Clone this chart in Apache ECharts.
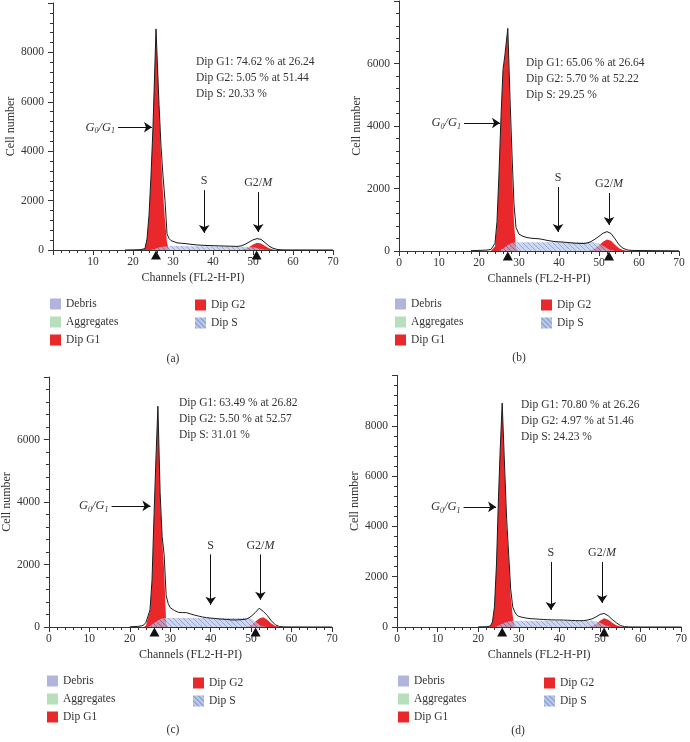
<!DOCTYPE html>
<html>
<head>
<meta charset="utf-8">
<script src="https://cdn.jsdelivr.net/npm/echarts@6/dist/echarts.min.js"></script>
<style>html,body{margin:0;padding:0;background:#fff}#c{width:690px;height:742px}</style>
</head>
<body>
<div id="c"></div>
<script>
// ---------- DATA ----------
const tailCh = [30,31,32,33,34,35,36,37,38,39,40,41,42,43,44,45,46,47,48,49,50,51,52,53,54,55,56,57,58,60,65,70];

// Panel (a)
const chA = [18,20,22,23,23.5,24,24.5,25,25.75,26.5,27,27.5,28,28.5,29,29.5].concat(tailCh);
const totalA = [0,5,15,60,450,1400,3000,5000,8950,5900,4200,3000,2000,650,470,380,
  320,290,275,260,240,220,205,195,185,180,175,170,165,160,155,150,145,165,230,320,410,460,430,300,160,70,25,8,4, 2,1,0];
const g1A = [0,0,5,50,430,1380,2980,4980,8950,5800,3800,2300,1200,300,0,0,
  0,0,0,0,0,0,0,0,0,0,0,0,0,0,0,0,0,0,0,0,0,0,0,0,0,0,0,0,0, 0,0,0];
const sA = [0,0,0,0,0,0,0,20,60,100,120,135,145,155,160,160,
  160,160,160,158,156,154,152,150,150,148,146,144,142,140,138,136,134,132,130,125,110,80,40,10,0,0,0,0,0, 0,0,0];
const g2A = [0,0,0,0,0,0,0,0,0,0,0,0,0,0,0,0,
  0,0,0,0,0,0,0,0,0,0,0,0,0,0,0,0,0,10,40,110,220,295,260,160,70,25,5,0,0, 0,0,0];

// Panel (b)
const chB = [18,20,22,23,23.5,24,24.5,25,25.5,26,26.5,27.2,27.75,28.25,28.75,29.25].concat(tailCh);
const totalB = [10,20,30,50,90,250,950,2500,4300,5800,6300,7125,4900,3100,1500,750,
  540,470,430,410,400,390,370,340,320,300,295,285,275,262,250,245,240,255,300,380,470,570,620,560,390,200,90,35,20, 15,10,5];
const g1B = [0,0,0,0,20,150,850,2450,4250,5750,6250,7100,4500,2600,900,100,
  0,0,0,0,0,0,0,0,0,0,0,0,0,0,0,0,0,0,0,0,0,0,0,0,0,0,0,0,0, 0,0,0];
const sB = [0,0,0,0,0,0,0,0,30,80,130,190,230,260,275,280,
  280,280,280,280,280,280,280,280,280,280,280,280,280,280,280,280,280,280,280,270,240,170,90,30,0,0,0,0,0, 0,0,0];
const g2B = [0,0,0,0,0,0,0,0,0,0,0,0,0,0,0,0,
  0,0,0,0,0,0,0,0,0,0,0,0,0,0,0,0,0,0,20,80,180,300,370,330,200,90,30,5,0, 0,0,0];

// Panel (c)
const chC = [20,22,23,23.5,24,24.5,25,25.5,26,26.5,26.95,27.5,28,28.5,29,29.5].concat(tailCh);
const totalC = [5,20,40,70,150,350,550,1500,3600,5500,7064,4300,2900,2300,1000,750,
  620,530,470,460,460,420,380,350,320,300,285,275,260,250,240,230,225,230,240,260,340,460,600,500,370,200,70,15,5, 2,0,0];
const g1C = [0,0,0,0,50,300,500,1400,3500,5400,7050,4100,2800,1800,100,0,
  0,0,0,0,0,0,0,0,0,0,0,0,0,0,0,0,0,0,0,0,0,0,0,0,0,0,0,0,0, 0,0,0];
const sC = [0,0,0,0,0,0,30,80,130,180,220,250,270,285,290,290,
  290,290,290,290,290,290,290,290,290,290,290,290,290,290,290,290,290,290,290,290,270,180,80,20,0,0,0,0,0, 0,0,0];
const g2C = [0,0,0,0,0,0,0,0,0,0,0,0,0,0,0,0,
  0,0,0,0,0,0,0,0,0,0,0,0,0,0,0,0,0,0,0,10,60,170,270,313,230,110,30,5,0, 0,0,0];

// Panel (d)
const chD = [20,22,23,23.5,24,24.5,25,25.4,25.9,26.4,27,27.5,28,28.5,29,29.5].concat(tailCh);
const totalD = [5,10,40,200,800,2500,5200,7000,8900,6800,4300,2900,1500,800,600,470,
  420,380,350,330,320,310,300,290,285,280,280,275,270,260,255,250,255,280,320,400,500,540,450,300,170,60,15,5,2, 0,0,0];
const g1D = [0,0,30,180,780,2480,5180,6980,8880,6600,4000,2700,1200,450,0,0,
  0,0,0,0,0,0,0,0,0,0,0,0,0,0,0,0,0,0,0,0,0,0,0,0,0,0,0,0,0, 0,0,0];
const sD = [0,0,0,0,0,20,60,90,130,170,200,220,235,245,250,250,
  250,250,250,250,250,250,250,250,250,250,250,250,250,250,250,250,250,250,250,230,170,90,30,0,0,0,0,0,0, 0,0,0];
const g2D = [0,0,0,0,0,0,0,0,0,0,0,0,0,0,0,0,
  0,0,0,0,0,0,0,0,0,0,0,0,0,0,0,0,0,5,30,120,250,345,290,170,70,15,0,0,0, 0,0,0];

// Peak markers (channels)
const markA = [25.75, 50.9], markB = [27.2, 52.5], markC = [26.1, 51.1], markD = [25.9, 51.0];

// Stats text
const statsA = ['Dip G1: 74.62 % at 26.24', 'Dip G2: 5.05 % at 51.44', 'Dip S: 20.33 %'];
const statsB = ['Dip G1: 65.06 % at 26.64', 'Dip G2: 5.70 % at 52.22', 'Dip S: 29.25 %'];
const statsC = ['Dip G1: 63.49 % at 26.82', 'Dip G2: 5.50 % at 52.57', 'Dip S: 31.01 %'];
const statsD = ['Dip G1: 70.80 % at 26.26', 'Dip G2: 4.97 % at 51.46', 'Dip S: 24.23 %'];

// Arrow annotations in data coords: [x1,y1,x2,y2]
const arrowsA = {g: [16.25, 4970, 24.75, 4970], s: [37.8, 2424, 37.8, 690], m: [51.3, 2343, 51.3, 730]};
const arrowsB = {g: [16.25, 4096, 25.25, 4096], s: [39.75, 2048, 39.75, 610], m: [52.5, 1856, 52.5, 830]};
const arrowsC = {g: [15.5, 3876, 25.1, 3876], s: [40, 2323, 40, 710], m: [52.3, 2323, 52.3, 870]};
const arrowsD = {g: [16.4, 4776, 24.4, 4776], s: [37.9, 2587, 37.9, 680], m: [50.5, 2587, 50.5, 955]};

const legendCol1 = ['Debris', 'Aggregates', 'Dip G1'];
const legendCol2 = ['Dip G2', 'Dip S'];
const captions = ['(a)', '(b)', '(c)', '(d)'];

// ---------- STYLE / LAYOUT ----------
const FONT = '"Liberation Serif", "DejaVu Serif", serif';
const TXT = '#333';
const RED = '#e8282b';

function hatch() {
  const c = document.createElement('canvas');
  c.width = 5; c.height = 5;
  const x = c.getContext('2d');
  x.fillStyle = '#b9c6ea';
  x.fillRect(0, 0, 5, 5);
  x.strokeStyle = '#6c84c4';
  x.lineWidth = 1;
  for (let i = -5; i <= 5; i += 5) {
    x.beginPath(); x.moveTo(i, 0); x.lineTo(i + 5, 5); x.stroke();
  }
  return c;
}
const PAT = {image: hatch(), repeat: 'repeat'};

const panels = [
  {ch: chA, total: totalA, g1: g1A, s: sA, g2: g2A, mark: markA, stats: statsA, arrows: arrowsA, ymax: 10000,
   grid: {left: 53, top: 3, width: 280, height: 247}, showX0: false,
   statPos: [196, 62], leg1: [50, 298], leg2: [195, 299], cap: [173, 359]},
  {ch: chB, total: totalB, g1: g1B, s: sB, g2: g2B, mark: markB, stats: statsB, arrows: arrowsB, ymax: 8000,
   grid: {left: 399, top: 1, width: 280, height: 250}, showX0: true,
   statPos: [526, 63], leg1: [395, 298], leg2: [541, 299], cap: [519, 358]},
  {ch: chC, total: totalC, g1: g1C, s: sC, g2: g2C, mark: markC, stats: statsC, arrows: arrowsC, ymax: 8000,
   grid: {left: 47, top: 377, width: 285, height: 250}, showX0: true,
   statPos: [179, 403], leg1: [47, 675], leg2: [193, 677], cap: [173, 730]},
  {ch: chD, total: totalD, g1: g1D, s: sD, g2: g2D, mark: markD, stats: statsD, arrows: arrowsD, ymax: 10000,
   grid: {left: 397, top: 375.5, width: 290, height: 251.5}, showX0: true,
   statPos: [521, 405], leg1: [398, 675], leg2: [544, 677], cap: [518, 731]}
];

const zip = (ch, v) => ch.map((c, i) => [c, v[i]]);

const grids = [], xAxes = [], yAxes = [], series = [], legends = [], graphics = [];

const gLabel = {
  formatter: '{g|G}{s|0}{g|/G}{s|1}',
  rich: {
    g: {fontFamily: FONT, fontStyle: 'italic', fontSize: 12.5, color: TXT, lineHeight: 16, verticalAlign: 'middle'},
    s: {fontFamily: FONT, fontStyle: 'italic', fontSize: 8, color: TXT, lineHeight: 16, verticalAlign: 'bottom'}
  }
};
const mLabel = {
  formatter: '{n|G2/}{i|M}',
  rich: {
    n: {fontFamily: FONT, fontSize: 12, color: TXT},
    i: {fontFamily: FONT, fontSize: 12, fontStyle: 'italic', color: TXT}
  }
};

panels.forEach((p, k) => {
  grids.push(Object.assign({}, p.grid));
  const axisCommon = {
    axisLine: {show: true, lineStyle: {color: '#333', width: 1}},
    axisTick: {show: true, length: 5, lineStyle: {color: '#333'}},
    minorTick: {show: true, splitNumber: 5, length: 3, lineStyle: {color: '#333'}},
    splitLine: {show: false},
    minorSplitLine: {show: false}
  };
  xAxes.push(Object.assign({
    type: 'value', gridIndex: k, min: 0, max: 70, interval: 10,
    name: 'Channels (FL2-H-PI)', nameLocation: 'middle', nameGap: 22,
    nameTextStyle: {fontFamily: FONT, fontSize: 12, color: TXT},
    axisLabel: {fontFamily: FONT, fontSize: 11.5, color: TXT, margin: 6, showMinLabel: p.showX0,
      formatter: v => String(v)}
  }, axisCommon));
  yAxes.push(Object.assign({
    type: 'value', gridIndex: k, min: 0, max: p.ymax, interval: 2000,
    name: 'Cell number', nameLocation: 'middle', nameGap: 31, nameRotate: 90,
    nameTextStyle: {fontFamily: FONT, fontSize: 12, color: TXT},
    axisLabel: {fontFamily: FONT, fontSize: 11.5, color: TXT, margin: 9, showMaxLabel: false,
      formatter: v => String(v)}
  }, axisCommon));

  const base = {type: 'line', xAxisIndex: k, yAxisIndex: k, showSymbol: false, symbol: 'none', silent: true, animation: false};
  series.push(Object.assign({}, base, {
    name: 'Dip G1', data: zip(p.ch, p.g1), z: 2,
    lineStyle: {width: 0}, itemStyle: {color: RED}, areaStyle: {color: RED, opacity: 1}
  }));
  series.push(Object.assign({}, base, {
    name: 'Dip G2', data: zip(p.ch, p.g2), z: 2,
    lineStyle: {width: 0}, itemStyle: {color: RED}, areaStyle: {color: RED, opacity: 1}
  }));
  series.push(Object.assign({}, base, {
    name: 'Dip S', data: zip(p.ch, p.s), z: 3,
    lineStyle: {width: 0}, itemStyle: {color: PAT}, areaStyle: {color: PAT, opacity: 0.7}
  }));
  const a = p.arrows;
  series.push(Object.assign({}, base, {
    name: 'Total', data: zip(p.ch, p.total), z: 4, clip: false,
    lineStyle: {color: '#1a1a1a', width: 1}, itemStyle: {color: '#1a1a1a'},
    markPoint: {
      silent: true, symbol: 'triangle', symbolSize: [10, 9], symbolOffset: [0, 5],
      itemStyle: {color: '#111'}, label: {show: false},
      data: p.mark.map(m => ({coord: [m, 0]}))
    },
    markLine: {
      silent: true, symbol: ['none', 'arrow'], symbolSize: 8,
      lineStyle: {color: '#111', width: 1, type: 'solid'},
      label: {show: true, position: 'start', distance: 3, color: TXT, fontFamily: FONT, fontSize: 12},
      data: [
        [{coord: [a.g[0], a.g[1]], label: gLabel}, {coord: [a.g[2], a.g[3]]}],
        [{coord: [a.s[0], a.s[1]], label: {formatter: 'S', fontFamily: FONT, fontSize: 12, color: TXT}}, {coord: [a.s[2], a.s[3]]}],
        [{coord: [a.m[0], a.m[1]], label: mLabel}, {coord: [a.m[2], a.m[3]]}]
      ]
    }
  }));

  const legCommon = {
    orient: 'vertical', icon: 'rect', itemWidth: 11, itemHeight: 11, itemGap: 6,
    selectedMode: false, padding: 0,
    textStyle: {fontFamily: FONT, fontSize: 11.5, color: TXT}
  };
  legends.push(Object.assign({}, legCommon, {left: p.leg1[0], top: p.leg1[1], data: legendCol1}));
  legends.push(Object.assign({}, legCommon, {left: p.leg2[0], top: p.leg2[1], data: legendCol2}));

  p.stats.forEach((t, i) => {
    graphics.push({type: 'text', x: p.statPos[0], y: p.statPos[1] + i * 16, silent: true,
      style: {text: t, fontFamily: FONT, fontSize: 11.5, fill: TXT, align: 'left', verticalAlign: 'middle'}});
  });
  graphics.push({type: 'text', x: p.cap[0], y: p.cap[1], silent: true,
    style: {text: captions[k], fontFamily: FONT, fontSize: 11.5, fill: TXT, align: 'center', verticalAlign: 'middle'}});
});

// legend-only series
series.push({type: 'line', name: 'Debris', data: [], xAxisIndex: 0, yAxisIndex: 0, itemStyle: {color: '#b1b4dc'}, lineStyle: {color: '#b1b4dc'}});
series.push({type: 'line', name: 'Aggregates', data: [], xAxisIndex: 0, yAxisIndex: 0, itemStyle: {color: '#b7dfbb'}, lineStyle: {color: '#b7dfbb'}});

const chart = echarts.init(document.getElementById('c'), null, {renderer: 'canvas'});
chart.setOption({
  animation: false,
  backgroundColor: '#fff',
  grid: grids, xAxis: xAxes, yAxis: yAxes, series: series, legend: legends, graphic: graphics
});
</script>
</body>
</html>
